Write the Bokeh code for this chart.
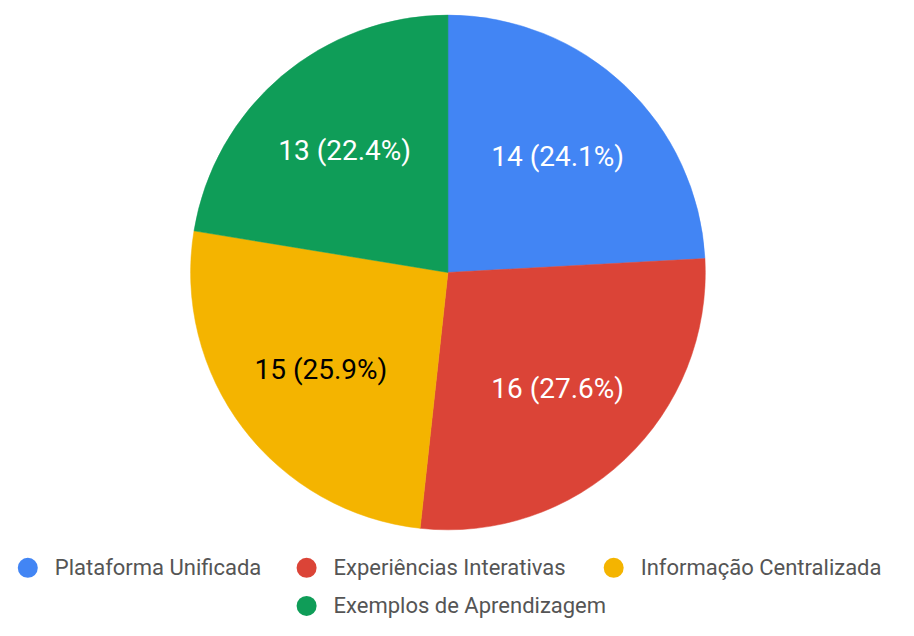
import numpy as np
from bokeh.plotting import figure
from bokeh.models import Range1d, ColumnDataSource
from bokeh.core.properties import value
from bokeh.embed import file_html
from bokeh.resources import INLINE

categories = ["Plataforma Unificada", "Experiências Interativas", "Informação Centralizada", "Exemplos de Aprendizagem"]
counts = [14, 16, 15, 13]
colors = ["#4285F4", "#DB4437", "#F4B400", "#0F9D58"]
label_colors = ["#FFFFFF", "#FFFFFF", "#000000", "#FFFFFF"]

W, H = 898, 620
S = H / 636.0
p = figure(width=W, height=H, output_backend="svg", toolbar_location=None,
           x_axis_type=None, y_axis_type=None, min_border=0,
           x_range=Range1d(0, W), y_range=Range1d(0, H))
p.outline_line_color = None
p.grid.visible = False
p.background_fill_color = "white"

def px(x):
    return x * S

def py(y):
    return H - y * S

cx, cy, R = px(459), py(279), 264 * S
total = sum(counts)
fr = np.array(counts) / total
cum = np.concatenate([[0], np.cumsum(fr)])
start = np.pi / 2 - 2 * np.pi * cum[1:]
end = np.pi / 2 - 2 * np.pi * cum[:-1]
src = ColumnDataSource(dict(start=start, end=end, color=colors))
p.wedge(x=cx, y=cy, radius=R, start_angle="start", end_angle="end",
        fill_color="color", line_color="color", line_width=0.5, source=src)

mid = (start + end) / 2
lr = 0.62 * R
labels = [f"{c} ({f*100:.1f}%)" for c, f in zip(counts, fr)]
lsrc = ColumnDataSource(dict(x=cx + lr * np.cos(mid), y=cy + lr * np.sin(mid),
                             t=labels, c=label_colors))
p.text(x="x", y="y", text="t", text_color="c", source=lsrc,
       text_font=value("Roboto"), text_font_size="28px",
       text_align="center", text_baseline="middle")

# legend
leg_x = [px(28), px(314), px(629), px(314)]
leg_y = [py(582), py(582), py(582), py(621)]
p.scatter(x=leg_x, y=leg_y, size=20, marker="circle", fill_color=colors, line_color=None)
p.text(x=[x + 27 for x in leg_x], y=leg_y, text=categories, text_color="#555555",
       text_font=value("Roboto"), text_font_size="22px",
       text_align="left", text_baseline="middle")

open("out.html", "w").write(file_html(p, INLINE))
